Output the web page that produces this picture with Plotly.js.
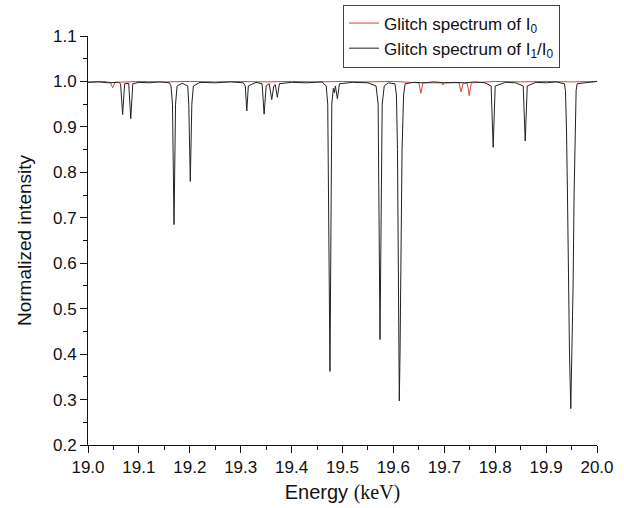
<!DOCTYPE html>
<html>
<head>
<meta charset="utf-8">
<script src="https://cdn.plot.ly/plotly-3.0.1.min.js"></script>
<style>html,body{margin:0;padding:0;background:#fff;}#chart{width:624px;height:508px;}</style>
</head>
<body>
<div id="chart"></div>
<script>
// Glitch spectrum of I1/I0 (black)
var ratioEnergy = [
  19.000, 19.020, 19.040, 19.060, 19.064, 19.068, 19.072, 19.080, 19.084, 19.088,
  19.100, 19.120, 19.140, 19.160, 19.163, 19.166, 19.169, 19.172, 19.175, 19.185,
  19.196, 19.198, 19.201, 19.204, 19.207, 19.220, 19.250, 19.280, 19.305, 19.309,
  19.312, 19.315, 19.330, 19.342, 19.346, 19.350, 19.356, 19.361, 19.365, 19.368,
  19.372, 19.376, 19.400, 19.430, 19.460, 19.468, 19.471, 19.4754, 19.479, 19.482,
  19.484, 19.486, 19.490, 19.494, 19.520, 19.550, 19.566, 19.570, 19.5737, 19.578,
  19.582, 19.590, 19.603, 19.606, 19.608, 19.609, 19.610, 19.611, 19.6116, 19.613,
  19.614, 19.615, 19.617, 19.620, 19.623, 19.640, 19.660, 19.680, 19.700, 19.720,
  19.740, 19.760, 19.780, 19.792, 19.796, 19.800, 19.820, 19.840, 19.855, 19.859,
  19.863, 19.880, 19.900, 19.920, 19.936, 19.938, 19.940, 19.942, 19.944, 19.946,
  19.9485, 19.951, 19.953, 19.955, 19.957, 19.959, 19.961, 19.980, 20.000
];
var ratioValue = [
  0.998, 0.999, 0.997, 0.998, 0.995, 0.927, 0.995, 0.996, 0.918, 0.995,
  0.998, 0.997, 0.999, 0.997, 0.990, 0.950, 0.685, 0.950, 0.990, 0.996,
  0.990, 0.950, 0.780, 0.950, 0.990, 0.998, 0.997, 0.999, 0.997, 0.990,
  0.935, 0.990, 0.998, 0.995, 0.928, 0.990, 0.995, 0.960, 0.990, 0.993,
  0.965, 0.995, 0.998, 0.997, 0.999, 0.990, 0.950, 0.362, 0.950, 0.985,
  0.975, 0.990, 0.962, 0.995, 0.998, 0.997, 0.990, 0.950, 0.432, 0.950,
  0.990, 0.997, 0.995, 0.970, 0.850, 0.700, 0.550, 0.400, 0.297, 0.400,
  0.550, 0.700, 0.850, 0.970, 0.995, 0.998, 0.997, 0.999, 0.997, 0.998,
  0.997, 0.999, 0.997, 0.990, 0.855, 0.990, 0.998, 0.997, 0.990, 0.869,
  0.990, 0.998, 0.997, 0.999, 0.995, 0.980, 0.900, 0.750, 0.550, 0.400,
  0.280, 0.400, 0.550, 0.750, 0.900, 0.980, 0.995, 0.998, 1.000
];
// Glitch spectrum of I0 (red)
var i0Energy = [
  19.000, 19.030, 19.044, 19.0485, 19.053, 19.070, 19.100, 19.150, 19.200, 19.250,
  19.300, 19.350, 19.400, 19.450, 19.500, 19.550, 19.600, 19.650, 19.654, 19.658,
  19.695, 19.697, 19.699, 19.729, 19.733, 19.737, 19.745, 19.749, 19.753, 19.800,
  19.850, 19.900, 19.950, 20.000
];
var i0Value = [
  0.999, 1.000, 0.998, 0.986, 0.998, 0.999, 1.000, 0.999, 1.000, 0.999,
  1.000, 0.999, 1.000, 0.999, 1.000, 0.999, 1.000, 0.997, 0.974, 0.997,
  0.997, 0.992, 0.997, 0.997, 0.977, 0.996, 0.996, 0.969, 0.997, 1.000,
  0.999, 1.000, 0.999, 1.000
];
var xTickVals = [19.0, 19.1, 19.2, 19.3, 19.4, 19.5, 19.6, 19.7, 19.8, 19.9, 20.0];
var yTickVals = [0.2, 0.3, 0.4, 0.5, 0.6, 0.7, 0.8, 0.9, 1.0, 1.1];

var traces = [
  {x: i0Energy, y: i0Value, mode: 'lines', name: 'Glitch spectrum of I<sub>0</sub>',
   line: {color: '#e0403c', width: 1}},
  {x: ratioEnergy, y: ratioValue, mode: 'lines', name: 'Glitch spectrum of I<sub>1</sub>/I<sub>0</sub>',
   line: {color: '#222222', width: 1}}
];
var fontFam = 'Arial, "Liberation Sans", sans-serif';
var layout = {
  width: 624, height: 508,
  margin: {l: 88, r: 27, t: 36, b: 63, pad: 0, autoexpand: false},
  paper_bgcolor: '#fff', plot_bgcolor: '#fff',
  font: {family: fontFam, size: 17, color: '#111'},
  showlegend: true,
  legend: {x: 0.501, y: 1.077, xanchor: 'left', yanchor: 'top',
    bordercolor: '#444', borderwidth: 1, bgcolor: '#fff',
    font: {family: fontFam, size: 17, color: '#111'}, tracegroupgap: 0},
  xaxis: {range: [19, 20], tickvals: xTickVals, tickformat: '.1f', automargin: false,
    showline: true, linecolor: '#111', linewidth: 1, ticks: 'outside', ticklen: 7,
    tickcolor: '#111', showgrid: false, zeroline: false,
    minor: {dtick: 0.05, tick0: 19, ticks: 'outside', ticklen: 4, tickcolor: '#111', showgrid: false},
    title: {text: 'Energy <span style="font-family:\'Liberation Serif\', serif">(keV)</span>', font: {size: 20, family: fontFam}, standoff: 8},
    tickfont: {size: 17}},
  yaxis: {range: [0.2, 1.1], tickvals: yTickVals, tickformat: '.1f', automargin: false,
    showline: true, linecolor: '#111', linewidth: 1, ticks: 'outside', ticklen: 7,
    tickcolor: '#111', showgrid: false, zeroline: false,
    minor: {dtick: 0.05, tick0: 0.2, ticks: 'outside', ticklen: 4, tickcolor: '#111', showgrid: false},
    title: {text: 'Normalized intensity', font: {size: 19, family: fontFam}, standoff: 16},
    tickfont: {size: 17}}
};
Plotly.newPlot('chart', traces, layout, {staticPlot: true, displayModeBar: false});
</script>
</body>
</html>
